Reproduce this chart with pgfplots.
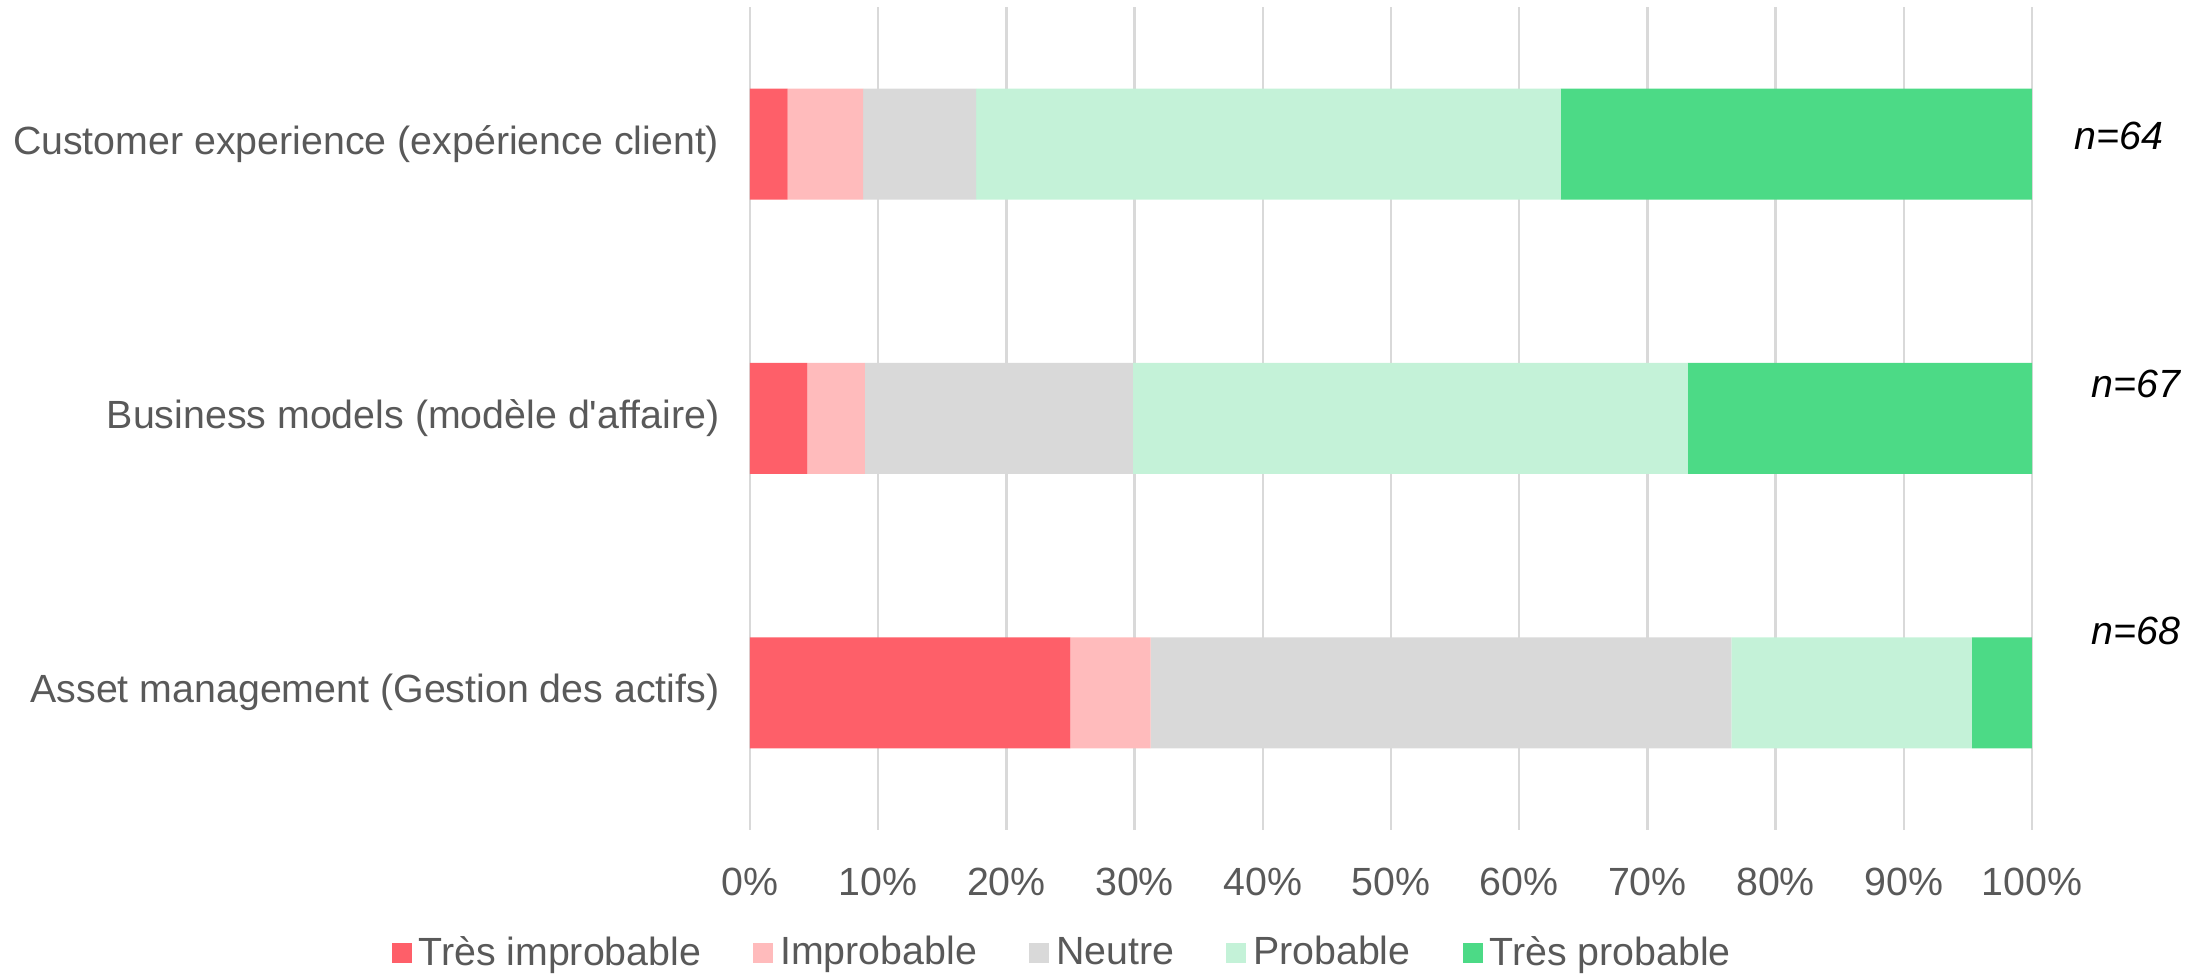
\documentclass[border=0pt]{standalone}
\usepackage{fontspec}
\setmainfont{Liberation Sans}
\usepackage{pgfplots}
\pgfplotsset{compat=1.18}
\definecolor{cA}{HTML}{FE5F69}
\definecolor{cB}{HTML}{FFBBBC}
\definecolor{cC}{HTML}{D9D9D9}
\definecolor{cD}{HTML}{C4F2D8}
\definecolor{cE}{HTML}{4CDA86}
\definecolor{gridgray}{HTML}{D9D9D9}
\definecolor{textgray}{HTML}{595959}
\newcommand{\fs}{\fontsize{11.8}{14}\selectfont}
\begin{document}
\begin{tikzpicture}
\begin{axis}[
  xbar stacked, bar width=33.3pt,
  width=384.6pt, height=246.9pt, scale only axis,
  xmin=0, xmax=100, ymin=-0.5, ymax=2.5,
  axis line style={draw=none},
  xmajorgrids, grid style={color=gridgray, line width=0.7pt},
  xtick={0,10,...,100},
  xticklabel={\pgfmathprintnumber{\tick}\%},
  ytick={0,1,2},
  yticklabels={Asset management (Gestion des actifs), Business models (modèle d\textquotesingle affaire), Customer experience (expérience client)},
  major tick length=0pt, tick style={draw=none},
  /pgf/number format/assume math mode=true,
  tick label style={font=\fs, text=textgray},
  xticklabel style={yshift=-7.8pt},
  yticklabel style={xshift=-5.7pt},
  clip=false,
  legend style={at={(0.2427,-0.1495)}, anchor=center, legend columns=5, draw=none, fill=none,
    font=\fs, text=textgray, nodes={inner sep=0pt},
    /tikz/every odd column/.append style={column sep=2.1pt},
    /tikz/every even column/.append style={column sep=15.6pt}},
  legend image code/.code={\fill[#1] (0pt,-3pt) rectangle (6pt,3pt);},
]
\addplot[fill=cA, draw=none] coordinates {(25,0) (4.48,1) (2.94,2)};
\addplot[fill=cB, draw=none] coordinates {(6.25,0) (4.48,1) (5.88,2)};
\addplot[fill=cC, draw=none] coordinates {(45.31,0) (20.90,1) (8.82,2)};
\addplot[fill=cD, draw=none] coordinates {(18.75,0) (43.28,1) (45.59,2)};
\addplot[fill=cE, draw=none] coordinates {(4.69,0) (26.87,1) (36.76,2)};
\legend{Très improbable, Improbable, Neutre, Probable, Très probable}
\node[anchor=west, inner sep=0pt, font=\itshape\fs, text=black] at (axis cs:103.3,2.03) {n=64};
\node[anchor=west, inner sep=0pt, font=\itshape\fs, text=black] at (axis cs:104.6,1.125) {n=67};
\node[anchor=west, inner sep=0pt, font=\itshape\fs, text=black] at (axis cs:104.6,0.225) {n=68};
\end{axis}
\pgfresetboundingbox
\path[use as bounding box] ([xshift=-225pt,yshift=-44.1pt]current axis.south west) rectangle ([xshift=46.5pt,yshift=2.1pt]current axis.north east);
\end{tikzpicture}
\end{document}
